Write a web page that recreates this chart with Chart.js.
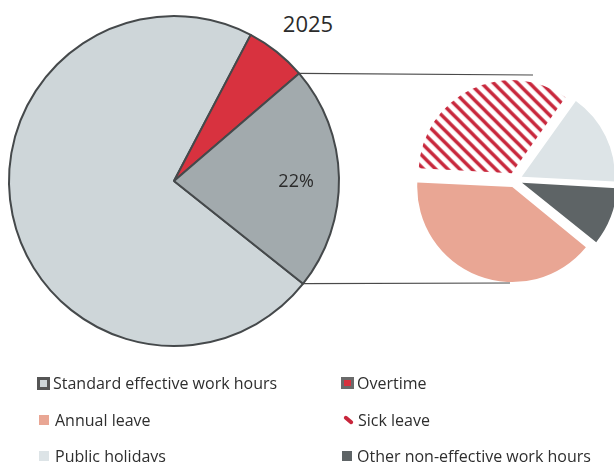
<!DOCTYPE html>
<html>
<head>
<meta charset="utf-8">
<script src="https://cdn.jsdelivr.net/npm/chart.js@4"></script>
<style>
  html, body { margin: 0; padding: 0; background: #fff; }
  body { width: 614px; height: 462px; position: relative; overflow: hidden; font-family: "Open Sans", sans-serif; color: #333; }
  #main { position: absolute; left: 0; top: 0; }
  #detail { position: absolute; left: 405px; top: 70px; }
  #links { position: absolute; left: 0; top: 0; pointer-events: none; }
  #title { position: absolute; left: 258px; width: 100px; top: 8px; text-align: center; font-size: 22px; color: #2b2b2b; }
  .legend-item { position: absolute; font-size: 16px; line-height: 20px; white-space: nowrap; display: flex; align-items: center; color: #2e2e2e; }
  .sw { display: inline-block; flex: none; box-sizing: border-box; }
</style>
</head>
<body>
<div id="title">2025</div>
<canvas id="main" width="348" height="362"></canvas>
<canvas id="detail" width="220" height="220"></canvas>
<canvas id="links" width="614" height="462"></canvas>
<div id="legend"></div>

<script>
const mainLabels = ['Standard effective work hours', 'Overtime', 'Non-effective work hours'];
const mainValues = [72, 6, 22];
const mainColors = ['#ced6d9', '#d8323f', '#a2aaad'];

const detailLabels = ['Annual leave', 'Sick leave', 'Public holidays', 'Other non-effective work hours'];
const detailValues = [40, 34, 16, 10];

const legendOrder = ['Standard effective work hours', 'Overtime', 'Annual leave', 'Sick leave', 'Public holidays', 'Other non-effective work hours'];

function stripes() {
    const c = document.createElement('canvas');
    const s = 12;
    c.width = s; c.height = s;
    const g = c.getContext('2d');
    g.fillStyle = '#fff';
    g.fillRect(0, 0, s, s);
    g.strokeStyle = '#c8263b';
    g.lineWidth = 3.4;
    g.beginPath();
    g.moveTo(-2, -2); g.lineTo(s + 2, s + 2);
    g.moveTo(s - 3, -3); g.lineTo(s + 3, 3);
    g.moveTo(-3, s - 3); g.lineTo(3, s + 3);
    g.stroke();
    return g.createPattern(c, 'repeat');
}

const detailColors = ['#e9a694', stripes(), '#dde4e7', '#5e6466'];

const pctLabel = {
    id: 'pctLabel',
    afterDatasetsDraw(chart) {
        const arc = chart.getDatasetMeta(0).data[2];
        const mid = (arc.startAngle + arc.endAngle) / 2;
        const r = arc.outerRadius * 0.74;
        const ctx = chart.ctx;
        ctx.save();
        ctx.font = '18px "Open Sans"';
        ctx.fillStyle = '#2b2b2b';
        ctx.textAlign = 'center';
        ctx.textBaseline = 'middle';
        ctx.fillText(mainValues[2] + '%', arc.x + Math.cos(mid) * r, arc.y + Math.sin(mid) * r + 3);
        ctx.restore();
    }
};

const mainChart = new Chart(document.getElementById('main'), {
    type: 'pie',
    data: {
        labels: mainLabels,
        datasets: [{
            data: mainValues,
            backgroundColor: mainColors,
            borderColor: '#45494b',
            borderWidth: 2
        }]
    },
    options: {
        responsive: false,
        animation: false,
        radius: 165,
        rotation: 128.5,
        plugins: { legend: { display: false }, tooltip: { enabled: false } },
        events: []
    },
    plugins: [pctLabel]
});

const connectors = {
    id: 'connectors',
    afterDraw(chart) {
        const src = mainChart.getDatasetMeta(0).data[2];
        const mc = document.getElementById('main');
        const dc = document.getElementById('detail');
        const arcs = chart.getDatasetMeta(0).data;
        const cx = arcs[0].x + dc.offsetLeft;
        const cy = arcs[0].y + dc.offsetTop;
        const r = arcs[0].outerRadius;
        const ctx = document.getElementById('links').getContext('2d');
        ctx.strokeStyle = '#4a4a4a';
        ctx.lineWidth = 1.2;
        ctx.beginPath();
        ctx.moveTo(mc.offsetLeft + src.x + Math.cos(src.startAngle) * src.outerRadius, mc.offsetTop + src.y + Math.sin(src.startAngle) * src.outerRadius);
        ctx.lineTo(cx + 18, cy - r - 13);
        ctx.moveTo(mc.offsetLeft + src.x + Math.cos(src.endAngle) * src.outerRadius, mc.offsetTop + src.y + Math.sin(src.endAngle) * src.outerRadius);
        ctx.lineTo(cx - 5, cy + r + 11);
        ctx.stroke();
    }
};

new Chart(document.getElementById('detail'), {
    type: 'pie',
    data: {
        labels: detailLabels,
        datasets: [{
            data: detailValues,
            backgroundColor: detailColors,
            borderWidth: 0,
            offset: 30
        }]
    },
    options: {
        responsive: false,
        animation: false,
        radius: 92,
        rotation: 129,
        plugins: { legend: { display: false }, tooltip: { enabled: false } },
        events: []
    },
    plugins: [connectors]
});

// html legend, two columns
const swatches = {
    'Standard effective work hours': 'width:13px;height:13px;background:#cfd6d9;border:3px solid #555;margin-right:3px;',
    'Overtime': 'width:13px;height:12px;background:#d8323f;border:3px solid #6a6a6a;margin-right:3px;',
    'Annual leave': 'width:10px;height:10px;background:#e9a694;margin:0 6px 0 2px;',
    'Sick leave': 'width:11px;height:4px;background:#c8263b;border-radius:2px;transform:rotate(40deg);margin:0 4px 0 2px;',
    'Public holidays': 'width:10px;height:10px;background:#dde4e7;margin:0 6px 0 2px;',
    'Other non-effective work hours': 'width:10px;height:10px;background:#5e6466;margin:0 5px 0 1px;'
};
const legendX = [37, 341];
const legendY = [383, 420, 456];
const legendEl = document.getElementById('legend');
legendOrder.forEach((name, i) => {
    const d = document.createElement('div');
    d.className = 'legend-item';
    d.style.left = legendX[i % 2] + 'px';
    d.style.top = (legendY[Math.floor(i / 2)] - 10) + 'px';
    d.innerHTML = `<span class="sw" style="${swatches[name]}"></span>${name}`;
    legendEl.appendChild(d);
});
</script>
</body>
</html>
